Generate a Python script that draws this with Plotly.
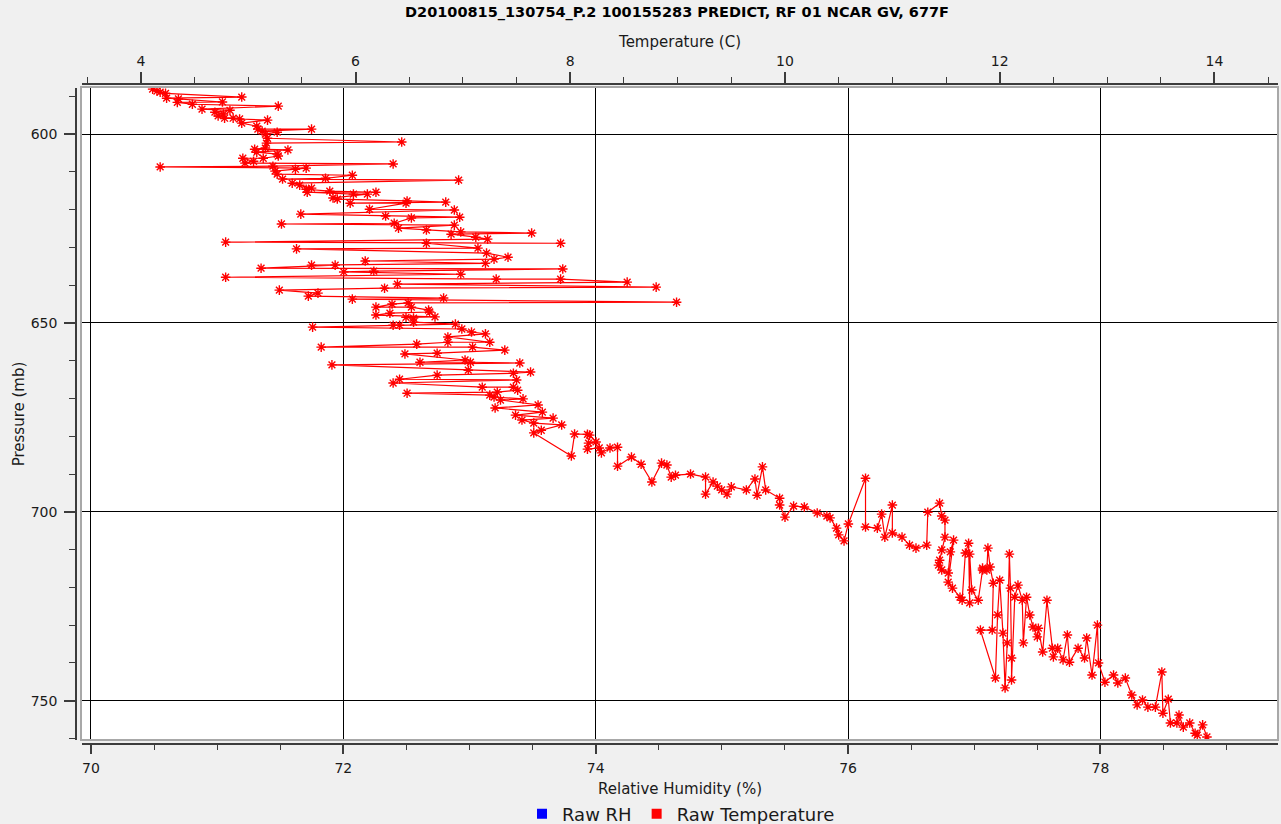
import plotly.graph_objects as go

title_text = "D20100815_130754_P.2 100155283 PREDICT, RF 01 NCAR GV, 677F"

# Raw temperature (C) and pressure (mb), in time order
temperature_c = [
    4.11, 4.15, 4.18, 4.23, 4.94, 4.24, 4.35, 4.76, 4.34, 4.48,
    5.28, 4.57, 4.83, 4.69, 4.77, 4.72, 4.78, 4.86, 4.92, 5.18,
    4.94, 5.08, 5.09, 5.59, 5.13, 5.27, 5.16, 5.18, 6.43, 5.17,
    5.16, 5.06, 5.37, 5.08, 5.27, 5.28, 5.14, 4.95, 5.05, 4.97,
    6.35, 5.23, 4.18, 5.54, 5.44, 5.25, 5.27, 5.97, 5.72, 5.32,
    6.96, 5.41, 5.48, 5.59, 5.54, 5.76, 6.19, 5.55, 5.98, 6.11,
    5.79, 5.83, 6.48, 6.84, 5.95, 6.47, 6.13, 6.92, 5.49, 6.28,
    6.97, 6.52, 6.36, 5.31, 6.92, 6.40, 6.66, 6.98, 7.64, 6.89,
    7.12, 7.23, 4.79, 7.91, 6.66, 7.14, 5.45, 7.22, 7.42, 7.29,
    6.09, 7.21, 5.59, 5.81, 5.12, 7.93, 6.17, 5.89, 6.98, 4.79,
    7.31, 7.91, 8.53, 6.39, 8.80, 6.27, 5.29, 5.65, 5.56, 6.82,
    5.97, 8.99, 6.49, 6.34, 6.19, 6.52, 6.68, 6.69, 6.32, 6.19,
    6.74, 6.47, 6.54, 6.54, 6.93, 6.35, 6.41, 5.60, 6.99, 7.08,
    7.21, 6.86, 7.25, 6.86, 6.57, 5.68, 7.09, 7.39, 6.76, 6.46,
    7.02, 6.60, 7.07, 7.53, 5.78, 7.05, 7.63, 7.47, 6.76, 6.41,
    7.50, 6.35, 7.18, 7.47, 7.51, 7.32, 6.48, 7.25, 7.29, 7.56,
    7.35, 7.70, 7.30, 7.74, 7.49, 7.84, 7.55, 7.66, 7.92, 7.73,
    7.66, 8.01, 8.04, 8.16, 8.18,
    8.24, 8.17, 8.16, 8.27, 8.29, 8.37, 8.44, 8.44, 8.57, 8.66,
    8.76, 8.85, 8.90, 8.94, 8.98, 9.12, 9.26, 9.26, 9.33, 9.37,
    9.41, 9.46, 9.50, 9.64, 9.72, 9.74, 9.79, 9.82, 9.95, 9.95,
    10.00, 10.08, 10.18, 10.30, 10.39, 10.42, 10.48, 10.50, 10.55, 10.59,
    10.75, 10.75, 10.86, 10.90, 10.93, 11.00, 11.00, 11.09, 11.16, 11.22,
    11.32, 11.33, 11.44, 11.46, 11.49, 11.49, 11.46, 11.43, 11.44, 11.46,
    11.52, 11.54, 11.57, 11.52, 11.56, 11.63, 11.65, 11.68, 11.71, 11.72,
    11.72, 11.74, 11.80, 11.84, 11.84, 11.88, 11.89, 11.91, 11.94, 11.93,
    11.82, 11.96, 11.98, 12.00, 12.03, 12.05, 12.07, 12.09, 12.10, 12.11,
    12.11, 12.14, 12.17, 12.21, 12.22, 12.25, 12.28, 12.31, 12.35, 12.36,
    12.40, 12.44, 12.49, 12.50, 12.54, 12.59, 12.63, 12.65, 12.73, 12.79,
    12.81, 12.86, 12.91, 12.92, 12.98, 13.06, 13.10, 13.17, 13.23, 13.28,
    13.33, 13.38, 13.45, 13.51, 13.52, 13.57, 13.59, 13.65, 13.67, 13.71,
    13.77, 13.82, 13.84, 13.89, 13.93,
]

pressure_mb = [
    588.1, 588.6, 588.9, 589.2, 590.2, 590.5, 590.7, 591.5, 591.6, 592.1,
    592.6, 593.4, 593.7, 594.2, 594.7, 595.2, 595.8, 595.8, 596.0, 596.3,
    597.1, 597.9, 598.7, 598.7, 599.2, 599.5, 600.0, 601.1, 602.1, 602.4,
    603.7, 604.0, 604.2, 604.8, 605.3, 605.8, 606.4, 606.4, 607.2, 607.7,
    607.9, 608.5, 608.7, 609.0, 609.3, 609.8, 610.6, 610.9, 611.7, 611.9,
    612.2, 613.0, 613.5, 614.3, 614.6, 615.1, 615.4, 615.4, 615.9, 615.9,
    616.9, 617.2, 617.7, 618.0, 618.3, 618.3, 619.9, 620.1, 621.2, 621.7,
    622.0, 622.2, 623.6, 623.8, 624.1, 624.9, 625.4, 625.9, 626.2, 626.5,
    627.3, 627.8, 628.6, 628.9, 628.9, 630.2, 630.4, 631.5, 632.6, 633.1,
    633.6, 634.2, 634.7, 634.7, 635.5, 635.7, 636.3, 636.5, 637.1, 637.9,
    638.4, 638.4, 639.2, 639.7, 640.5, 640.8, 641.3, 642.1, 642.9, 643.4,
    643.7, 644.5, 644.7, 645.0, 645.8, 645.8, 646.6, 647.1, 647.4, 647.9,
    648.4, 648.5, 648.7, 649.8, 650.3, 650.6, 650.6, 651.1, 651.6, 652.4,
    652.9, 653.7, 655.1, 655.1, 655.6, 656.4, 656.4, 657.2, 658.0, 658.2,
    659.8, 660.4, 660.4, 660.6, 661.1, 662.5, 663.0, 663.3, 663.8, 664.9,
    665.1, 665.9, 667.0, 667.0, 667.8, 668.3, 668.6, 669.1, 669.6, 670.1,
    670.4, 671.7, 672.5, 673.6, 674.4, 675.2, 675.7, 676.5, 677.0, 678.4,
    679.1, 685.2, 679.4, 679.5, 679.7,
    681.5, 681.8, 683.4, 683.1, 684.4, 683.1, 682.9, 687.9, 685.5, 687.4,
    692.1, 687.1, 687.6, 690.8, 690.3, 690.0, 690.8, 695.3, 692.1, 693.2,
    694.2, 695.3, 693.4, 694.2, 691.3, 695.6, 688.1, 694.2, 696.4, 698.2,
    701.4, 698.5, 698.7, 700.3, 701.1, 701.6, 704.3, 706.1, 707.7, 703.2,
    691.1, 704.0, 704.3, 700.6, 706.7, 698.2, 705.6, 706.7, 708.8, 709.6,
    708.8, 700.1, 697.7, 701.1, 702.2, 706.7, 710.1, 714.1, 712.8, 715.4,
    716.2, 710.6, 707.5, 718.6, 720.2, 722.6, 723.4, 710.9, 708.3, 724.1,
    711.2, 720.7, 723.4, 715.4, 714.9, 715.4, 709.6, 714.6, 718.9, 731.3,
    731.3, 744.0, 727.3, 718.1, 732.1, 746.6, 734.7, 711.2, 720.2, 738.7,
    744.5, 722.6, 719.4, 723.4, 734.7, 722.6, 727.3, 730.5, 733.1, 730.8,
    737.1, 723.4, 736.1, 738.4, 736.1, 739.2, 732.6, 739.8, 736.1, 738.7,
    733.4, 743.2, 730.0, 740.0, 745.1, 743.2, 745.3, 744.0, 748.5, 751.1,
    749.8, 751.7, 751.7, 742.4, 753.3, 749.6, 755.9, 755.9, 753.8, 757.0,
    755.9, 758.6, 759.1, 756.4, 759.6,
]

# Raw RH series: no samples fall inside the plotted window
rh_percent = []
rh_pressure_mb = []

rh_ticks = [70, 72, 74, 76, 78]
temp_ticks = [4, 6, 8, 10, 12, 14]
pressure_ticks = [600, 650, 700, 750]

rh_range = [69.929, 79.407]
temp_range = [3.452, 14.592]
pressure_range = [760.4, 587.8]

FONT = "DejaVu Sans"
TXT = "#1a1a1a"
AXC = "#3c3c3c"

fig = go.Figure()

# RH trace (empty) on bottom axis
fig.add_trace(go.Scatter(
    x=rh_percent if rh_percent else [None], y=rh_pressure_mb if rh_pressure_mb else [None],
    name="Raw RH", mode="markers",
    marker=dict(symbol="square", size=10, color="#0000ff"),
    xaxis="x", yaxis="y", showlegend=True,
))

# Temperature trace on top axis
fig.add_trace(go.Scatter(
    x=temperature_c, y=pressure_mb, name="Raw Temperature",
    mode="lines+markers",
    line=dict(color="#ff0000", width=1.2),
    marker=dict(symbol="asterisk-open", size=8, color="#ff0000",
                line=dict(color="#ff0000", width=1.4)),
    xaxis="x2", yaxis="y", showlegend=False, legendgroup="t",
))
# legend swatch for temperature
fig.add_trace(go.Scatter(
    x=[None], y=[None], name="Raw Temperature", mode="markers",
    marker=dict(symbol="square", size=10, color="#ff0000"),
    xaxis="x2", yaxis="y", showlegend=True, legendgroup="t",
))

L, R, T, B = 76, 3, 84, 80
W, H = 1281, 824
pw = W - L - R
ph = H - T - B
x_dom0 = (82 - L) / pw
y_dom0 = (744 - 740) / ph
y_dom1 = (744 - 88) / ph

fig.update_layout(
    width=W, height=H,
    margin=dict(l=L, r=R, t=T, b=B, autoexpand=False),
    paper_bgcolor="#f0f0f0",
    plot_bgcolor="#ffffff",
    font=dict(family=FONT, size=14, color=TXT),
    title=dict(text=title_text, x=0.5, xref="paper", xanchor="center",
               y=1 - 12 / H, yref="container", yanchor="middle",
               font=dict(family=FONT, size=14.5, color="#000000", weight="bold")),
    xaxis=dict(
        domain=[x_dom0, 1], anchor="free", position=0, side="bottom",
        range=rh_range, tickvals=rh_ticks, ticktext=[str(v) for v in rh_ticks],
        showline=True, linecolor=AXC, linewidth=1.5, mirror=False,
        ticks="outside", ticklen=9, tickwidth=1.5, tickcolor=AXC,
        ticklabelstandoff=2,
        minor=dict(dtick=0.5, tick0=70, ticks="outside", ticklen=5, tickwidth=1.2,
                   tickcolor=AXC, showgrid=False),
        showgrid=True, gridcolor="#000000", gridwidth=1, zeroline=False,
        tickfont=dict(size=14, color=TXT),
        title=dict(text="Relative Humidity (%)", font=dict(size=15, color=TXT), standoff=8),
        automargin=False,
    ),
    xaxis2=dict(
        overlaying="x", anchor="free", position=1, side="top",
        range=temp_range, tickvals=temp_ticks, ticktext=[str(v) for v in temp_ticks],
        showline=True, linecolor=AXC, linewidth=1.5,
        ticks="outside", ticklen=11, tickwidth=1.5, tickcolor=AXC,
        ticklabelstandoff=1,
        minor=dict(dtick=0.5, tick0=0, ticks="outside", ticklen=6, tickwidth=1.2,
                   tickcolor=AXC, showgrid=False),
        showgrid=False, zeroline=False,
        tickfont=dict(size=14, color=TXT),
        title=dict(text="Temperature (C)", font=dict(size=15, color=TXT), standoff=0),
        automargin=False,
    ),
    yaxis=dict(
        domain=[y_dom0, y_dom1], anchor="free", position=0,
        range=pressure_range, tickvals=pressure_ticks,
        ticktext=[str(v) for v in pressure_ticks],
        showline=True, linecolor=AXC, linewidth=1.5,
        ticks="outside", ticklen=11, tickwidth=1.5, tickcolor=AXC,
        ticklabelstandoff=4,
        minor=dict(dtick=10, tick0=600, ticks="outside", ticklen=6, tickwidth=1.2,
                   tickcolor=AXC, showgrid=False),
        showgrid=True, gridcolor="#000000", gridwidth=1, zeroline=False,
        tickfont=dict(size=14, color=TXT),
        title=dict(text="Pressure (mb)", font=dict(size=15, color=TXT), standoff=1),
        automargin=False,
    ),
    legend=dict(
        orientation="h", x=(681 - L) / pw, xanchor="center",
        y=-(814 - 744) / ph, yanchor="middle",
        font=dict(family=FONT, size=18, color=TXT),
        bgcolor="rgba(0,0,0,0)", borderwidth=0,
        itemwidth=30, tracegroupgap=0,
    ),
    shapes=[dict(
        type="rect", xref="paper", yref="paper",
        x0=(81 - L) / pw, x1=1, y0=y_dom0, y1=(744 - 87) / ph,
        line=dict(color="#a8a8a8", width=2), fillcolor="rgba(0,0,0,0)", layer="above",
    )],
)

fig.write_html("out.html", config={"displayModeBar": False},
               post_script="document.body.style.margin='0';")
